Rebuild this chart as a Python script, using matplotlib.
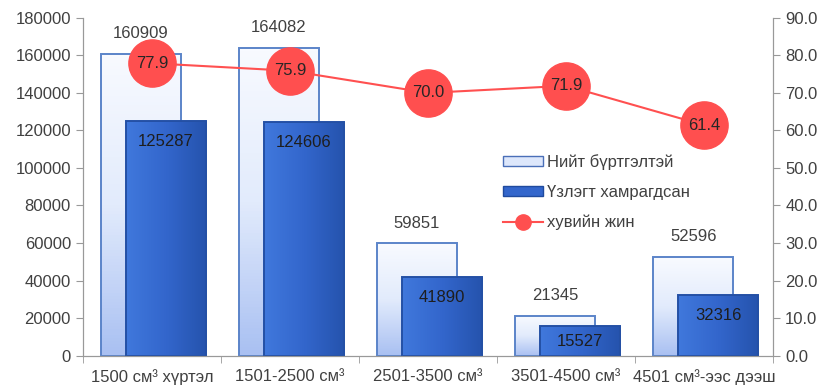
import numpy as np
import matplotlib.pyplot as plt
from matplotlib.patches import Patch
from matplotlib.lines import Line2D
from matplotlib.colors import LinearSegmentedColormap

categories = ["1500 см³ хүртэл", "1501-2500 см³", "2501-3500 см³", "3501-4500 см³", "4501 см³-ээс дээш"]
total = [160909, 164082, 59851, 21345, 52596]
inspected = [125287, 124606, 41890, 15527, 32316]
share = [77.9, 75.9, 70.0, 71.9, 61.4]

plt.rcParams['font.family'] = ['Liberation Sans', 'DejaVu Sans']
txt = '#404040'
fs = 12

fig = plt.figure(figsize=(8.28, 3.88), dpi=100)
ax = fig.add_axes([0.1, 0.0835, 0.834, 0.8705])
ax2 = ax.twinx()

x = np.arange(len(categories))
w = 0.58
light_cmap = LinearSegmentedColormap.from_list('l', ['#f8faff', '#e2ebfc', '#a9c0f2'])
dark_cmap = LinearSegmentedColormap.from_list('d', ['#4078dc', '#3366cc', '#2553ad'])

def grad_bars(xs, hs, cmap, edge, vertical, z):
    bars = ax.bar(xs, hs, width=w, facecolor='none', edgecolor=edge, linewidth=1.4, zorder=z + 0.5)
    for b in bars:
        bx, by = b.get_x(), b.get_y()
        bw, bh = b.get_width(), b.get_height()
        if vertical:
            g = np.linspace(0, 1, 100).reshape(-1, 1)
        else:
            g = np.linspace(0, 1, 100).reshape(1, -1)
        im = ax.imshow(g, cmap=cmap, aspect='auto', extent=[bx, bx + bw, by, by + bh],
                       origin='upper', zorder=z)
        im.set_clip_path(b)
    return bars

grad_bars(x - 0.08, total, light_cmap, '#5b84c9', True, 2)
grad_bars(x + 0.1, inspected, dark_cmap, '#2450a5', False, 3)

px_per_unit = 337.5 / 180000
for xi, v in zip(x, total):
    ax.annotate(str(v), (xi - 0.08, v), xytext=(0, 20), textcoords='offset pixels',
                ha='center', va='center', fontsize=fs, color=txt, zorder=5)
for xi, v in zip(x, inspected):
    off = min(21, v * px_per_unit / 2)
    ax.annotate(str(v), (xi + 0.1, v), xytext=(0, -off), textcoords='offset pixels',
                ha='center', va='center', fontsize=fs, color='#1e1e1e', zorder=5)

ax.set_xlim(-0.5, len(categories) - 0.5)
ax.set_ylim(0, 180000)
ax.set_yticks(range(0, 180001, 20000))
ax.set_xticks(x)
ax.set_xticklabels(categories, fontsize=fs, color=txt)
ax.set_xticks(np.arange(-0.5, len(categories), 1), minor=True)
ax.tick_params(axis='x', which='major', length=0, pad=10)
ax.tick_params(axis='x', which='minor', length=5, color='#999999')
ax.tick_params(axis='y', labelsize=fs, labelcolor=txt, color='#999999', length=5)

ax2.plot(x, share, color='#ff5050', linewidth=1.5, marker='o', markersize=34,
         markerfacecolor='#ff4f4f', markeredgecolor='#ff4f4f', zorder=4)
for xi, v in zip(x, share):
    ax2.text(xi, v, f"{v:.1f}", ha='center', va='center', fontsize=fs, color='#262626', zorder=6)
ax2.set_ylim(0, 90)
ax2.set_yticks(range(0, 91, 10))
ax2.set_yticklabels([f"{t:.1f}" for t in range(0, 91, 10)])
ax2.tick_params(axis='y', labelsize=fs, labelcolor=txt, color='#999999', length=5)

for a in (ax, ax2):
    a.spines['top'].set_visible(False)
    for s in ('left', 'right', 'bottom'):
        a.spines[s].set_color('#999999')

handles = [
    Patch(facecolor='#dde7fb', edgecolor='#4a6fb8'),
    Patch(facecolor='#3366cc', edgecolor='#1f4a9e'),
    Line2D([0], [0], color='#ff5050', marker='o', markersize=11, markerfacecolor='#ff4f4f',
           markeredgecolor='#ff4f4f', linewidth=1.5),
]
labels = ["Нийт бүртгэлтэй", "Үзлэгт хамрагдсан", "хувийн жин"]
fig.legend(handles, labels, loc='upper left', bbox_to_anchor=(0.6, 0.62), frameon=False,
           fontsize=fs, labelcolor=txt, handlelength=2.4, handleheight=0.5,
           labelspacing=0.9, handletextpad=0.2, borderaxespad=0)

fig.savefig('out.png', dpi=100)
